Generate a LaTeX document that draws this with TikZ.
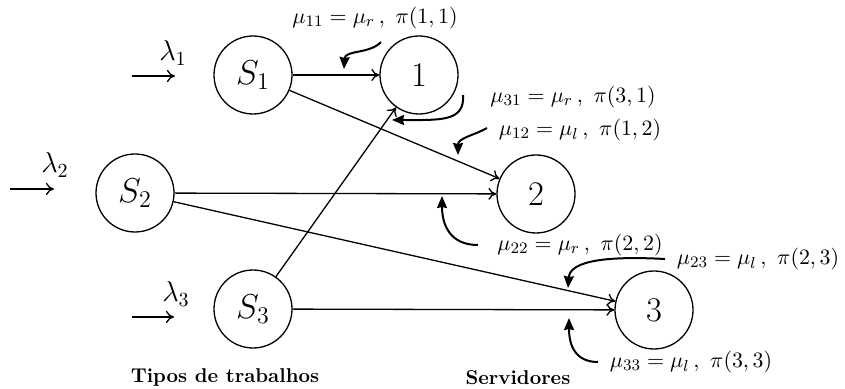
\documentclass[tikz,border=0pt]{standalone}
\usetikzlibrary{arrows.meta}

\begin{document}
\begin{tikzpicture}[x=0.5pt,y=-0.5pt,
  state/.style={draw,circle,line width=0.65pt,minimum size=39pt,inner sep=0pt,font=\LARGE},
  flow/.style={line width=0.65pt,-{To[length=4pt,width=6pt]}},
  inflow/.style={line width=0.65pt,-{To[length=4pt,width=6pt]}},
  note/.style={line width=1pt,-{Stealth[length=6pt,width=5pt,inset=0.5pt]}},
  rate/.style={inner sep=0pt,font=\fontsize{11}{13}\selectfont},
  arrival/.style={inner sep=0pt,font=\Large},
  caption/.style={inner sep=0pt,font=\normalsize\bfseries}]
\useasboundingbox (0,0) rectangle (845,389);

% job types and servers
\node[state] (s1) at (253,75)  {$S_1$};
\node[state] (s2) at (135,193) {$S_2$};
\node[state] (s3) at (253,309) {$S_3$};
\node[state] (v1) at (419,75)  {$1$};
\node[state] (v2) at (536,194) {$2$};
\node[state] (v3) at (654,310) {$3$};

% arrivals
\coordinate (a1) at (132,76);  \coordinate (b1) at (175,76);
\coordinate (a2) at (10,189);  \coordinate (b2) at (54,189);
\coordinate (a3) at (132,317); \coordinate (b3) at (174,317);
\draw[inflow] (a1) -- (b1);
\draw[inflow] (a2) -- (b2);
\draw[inflow] (a3) -- (b3);
\node[arrival] (l1) at (173,53)  {$\lambda_1$};
\node[arrival] (l2) at (55,165)  {$\lambda_2$};
\node[arrival] (l3) at (176,294) {$\lambda_3$};

% routing
\draw[flow] (s1) -- (v1);
\draw[flow] (s1) -- (v2);
\draw[flow] (s2) -- (v2);
\draw[flow] (s2) -- (v3);
\draw[flow] (s3) -- (v1);
\draw[flow] (s3) -- (v3);

% service rates
\node[rate] (r11) at (375,18)  {$\mu_{11}=\mu_r\,,\ \pi(1,1)$};
\node[rate] (r31) at (573,97)  {$\mu_{31}=\mu_r\,,\ \pi(3,1)$};
\node[rate] (r12) at (580,130) {$\mu_{12}=\mu_l\,,\ \pi(1,2)$};
\node[rate] (r22) at (580,245) {$\mu_{22}=\mu_r\,,\ \pi(2,2)$};
\node[rate] (r23) at (758,259) {$\mu_{23}=\mu_l\,,\ \pi(2,3)$};
\node[rate] (r33) at (691,362) {$\mu_{33}=\mu_l\,,\ \pi(3,3)$};

\coordinate (t11) at (344,69);
\coordinate (t31) at (392,120);
\coordinate (t12) at (458,155);
\coordinate (t22) at (442,196);
\coordinate (t23) at (568,288);
\coordinate (t33) at (569,318);

\draw[note] (381,42) .. controls (370,54) and (345,50) .. (t11);
\draw[note] (463,95) .. controls (465,122) and (440,120) .. (t31);
\draw[note] (487,128) .. controls (475,135) and (458,138) .. (t12);
\draw[note] (478,245) .. controls (450,245) and (442,225) .. (t22);
\draw[note] (665,259) .. controls (610,256) and (570,260) .. (t23);
\draw[note] (598,362) .. controls (575,362) and (569,345) .. (t33);

% captions
\node[caption] (c1) at (225,377) {Tipos de trabalhos};
\node[caption] (c2) at (518,378) {Servidores};
\end{tikzpicture}
\end{document}
